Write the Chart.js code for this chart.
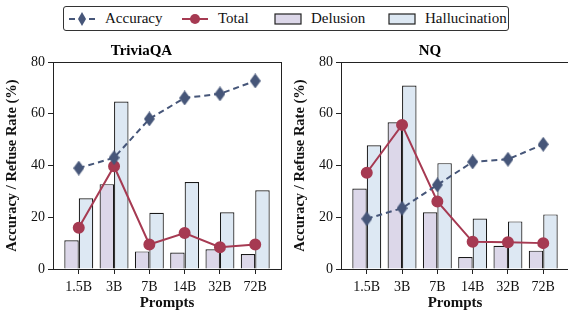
<!DOCTYPE html>
<html>
<head>
<meta charset="utf-8">
<script src="https://cdn.jsdelivr.net/npm/chart.js@4"></script>
<style>
  html, body { margin:0; padding:0; width:568px; height:312px; overflow:hidden; background:#fff; }
  body { position:relative; font-family:"Liberation Serif", serif; }
  .plot { position:absolute; top:36px; height:280px; width:290px; }
  #legend { position:absolute; left:63px; top:6px; width:446px; height:25px; border:1px solid #333; border-radius:3px; box-sizing:border-box; }
  .item { position:absolute; top:2px; font-family:"Liberation Serif", "Times New Roman", serif; font-size:15px; line-height:19px; color:#111; display:flex; align-items:center; }
  .item svg { margin-right:9px; }
</style>
</head>
<body>
<div id="legend">
  <div class="item" style="left:4px"><svg width="28" height="18"><line x1="1" y1="9" x2="27" y2="9" stroke="#465679" stroke-width="2" stroke-dasharray="6,4"/><path d="M14 2 L18 9 L14 16 L10 9 Z" fill="#465679"/></svg>Accuracy</div>
  <div class="item" style="left:117px"><svg width="28" height="18"><line x1="1" y1="9" x2="27" y2="9" stroke="#a63a52" stroke-width="2"/><circle cx="14" cy="9" r="5" fill="#a63a52"/></svg>Total</div>
  <div class="item" style="left:210px"><svg width="28" height="18"><rect x="1" y="4" width="26" height="10" fill="#dcd7e9" stroke="#222" stroke-width="1.2"/></svg>Delusion</div>
  <div class="item" style="left:324px"><svg width="28" height="18"><rect x="1" y="4" width="26" height="10" fill="#dde8f3" stroke="#222" stroke-width="1.2"/></svg>Hallucination</div>
</div>
<div class="plot" style="left:0px"><canvas id="c1" width="290" height="280"></canvas></div>
<div class="plot" style="left:288px"><canvas id="c2" width="290" height="280"></canvas></div>
<script>
const prompts = ['1.5B', '3B', '7B', '14B', '32B', '72B'];

const triviaAccuracy = [39.0, 43.0, 58.0, 66.1, 67.7, 72.7];
const triviaTotal = [15.9, 39.7, 9.5, 13.9, 8.4, 9.5];
const triviaDelusion = [11.1, 32.8, 6.8, 6.4, 7.6, 5.8];
const triviaHallucination = [27.3, 64.7, 21.7, 33.6, 21.9, 30.4];

const nqAccuracy = [19.4, 23.5, 32.5, 41.4, 42.4, 48.2];
const nqTotal = [37.2, 55.7, 26.1, 10.5, 10.3, 10.0];
const nqDelusion = [31.1, 56.7, 21.9, 4.6, 9.0, 7.1];
const nqHallucination = [47.8, 70.9, 40.9, 19.5, 18.4, 21.1];

const yTicks = [0, 20, 40, 60, 80];

const blue = '#465679', red = '#a63a52';
const fontFam = '"Liberation Serif", serif';

// tall thin diamond marker like matplotlib 'd'
const diamond = document.createElement('canvas');
diamond.width = 11; diamond.height = 15;
(function(){
  const g = diamond.getContext('2d');
  g.fillStyle = blue;
  g.beginPath();
  g.moveTo(5.5, 0); g.lineTo(11, 7.5); g.lineTo(5.5, 15); g.lineTo(0, 7.5);
  g.closePath(); g.fill();
})();

const frame = {
  id: 'frame',
  afterDraw(chart){
    const a = chart.chartArea, c = chart.ctx;
    c.save();
    c.strokeStyle = '#222'; c.lineWidth = 1;
    c.strokeRect(Math.round(a.left) + 0.5, Math.round(a.top) + 0.5, Math.round(a.right - a.left), Math.round(a.bottom - a.top));
    c.restore();
  }
};

const pts = arr => arr.map((v, i) => ({ x: i, y: v }));

function makeChart(id, title, acc, tot, del, hal, padRight){
  return new Chart(document.getElementById(id), {
    data: {
      datasets: [
        { type:'line', label:'Accuracy', data: pts(acc), borderColor: blue, borderWidth: 2, borderDash: [6, 4],
          pointStyle: diamond, pointRadius: 7, order: 0 },
        { type:'line', label:'Total', data: pts(tot), borderColor: red, backgroundColor: red, borderWidth: 2,
          pointStyle: 'circle', pointRadius: 5, pointBackgroundColor: red, order: 0 },
        { type:'bar', label:'Delusion', data: pts(del), backgroundColor:'#dcd7e9', borderColor:'#1a1a1a', borderWidth: 1.2,
          categoryPercentage: 0.82, barPercentage: 1.0, order: 1 },
        { type:'bar', label:'Hallucination', data: pts(hal), backgroundColor:'#dde8f3', borderColor:'#1a1a1a', borderWidth: 1.2,
          categoryPercentage: 0.82, barPercentage: 1.0, order: 1 }
      ]
    },
    options: {
      responsive: false, animation: false,
      layout: { padding: { left: 0, right: padRight, top: 0, bottom: 0 } },
      plugins: {
        legend: { display: false }, tooltip: { enabled: false },
        title: { display: true, text: title, color:'#000', font: { family: fontFam, size: 15, weight: 'bold' }, padding: { top: 6, bottom: 2 } }
      },
      scales: {
        x: {
          type: 'linear', min: -0.73, max: 5.73, offset: false,
          afterBuildTicks: s => { s.ticks = prompts.map((_, i) => ({ value: i })); },
          afterFit: s => { s.height = 47; },
          grid: { drawOnChartArea: false, drawTicks: true, tickLength: 5, tickColor:'#222', offset: false },
          border: { display: false },
          ticks: { color:'#111', padding: 5, maxRotation: 0, font: { family: fontFam, size: 14 }, callback: v => prompts[v] },
          title: { display: true, text: 'Prompts', color:'#111', padding: { top: 1, bottom: 4 }, font: { family: fontFam, size: 15, weight: 'bold' } }
        },
        y: {
          min: 0, max: 80,
          afterBuildTicks: s => { s.ticks = yTicks.map(v => ({ value: v })); },
          afterFit: s => { s.width = 53; },
          grid: { drawOnChartArea: false, drawTicks: true, tickLength: 5, tickColor:'#222' },
          border: { display: false },
          ticks: { color:'#111', padding: 3, font: { family: fontFam, size: 14 } },
          title: { display: true, text: 'Accuracy / Refuse Rate (%)', color:'#111', padding: { bottom: 1 }, font: { family: fontFam, size: 14.5, weight: 'bold' } }
        }
      }
    },
    plugins: [frame]
  });
}

makeChart('c1', 'TriviaQA', triviaAccuracy, triviaTotal, triviaDelusion, triviaHallucination, 7);
makeChart('c2', 'NQ', nqAccuracy, nqTotal, nqDelusion, nqHallucination, 6);
</script>
</body>
</html>
